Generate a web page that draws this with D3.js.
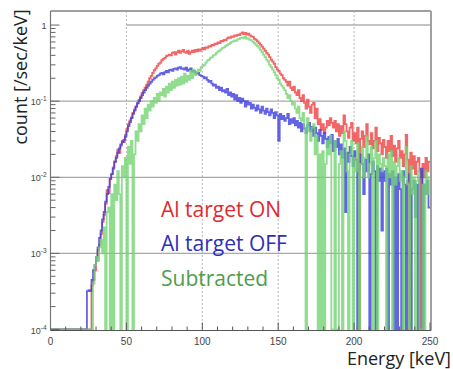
<!DOCTYPE html>
<html>
<head>
<meta charset="utf-8">
<script src="https://cdn.jsdelivr.net/npm/d3@7"></script>
<style>
  html, body { margin: 0; padding: 0; background: #fff; }
  svg { display: block; }
</style>
</head>
<body>
<svg id="chart" width="453" height="369"></svg>
<script>
// ---- data (1 keV bins starting at 0 keV) ----
const binStart = 0;
const binWidth = 1;
const xTicks = [0, 50, 100, 150, 200, 250];
const yTicks = [1, 0.1, 0.01, 0.001, 0.0001];
const yTickLabels = [["1", ""], ["10", "-1"], ["10", "-2"], ["10", "-3"], ["10", "-4"]];
const seriesNames = ["Al target ON", "Al target OFF", "Subtracted"];

const onValues = [
 0,0,0,0,0,0,0,0,0,0,
 0,0,0,0,0,0,0,0,0,0,
 0,0,0,0,0,0,0,0.00038,0.00045,0.0006,
 0.0008,0.0011,0.0013,0.0018,0.0026,0.0032,0.0045,0.0068,0.0062,0.0095,
 0.011,0.0135,0.016,0.019,0.023,0.021,0.026,0.030,0.029,0.036,
 0.043,0.050,0.056,0.061,0.070,0.078,0.085,0.093,0.104,0.115,
 0.128,0.140,0.150,0.165,0.180,0.200,0.215,0.235,0.255,0.270,
 0.290,0.310,0.320,0.345,0.360,0.370,0.390,0.400,0.410,0.400,
 0.430,0.440,0.410,0.440,0.460,0.430,0.450,0.470,0.440,0.430,
 0.460,0.420,0.440,0.460,0.440,0.470,0.450,0.480,0.460,0.480,
 0.500,0.480,0.510,0.500,0.530,0.520,0.550,0.540,0.570,0.560,
 0.590,0.580,0.620,0.610,0.640,0.630,0.670,0.690,0.680,0.710,
 0.700,0.730,0.720,0.750,0.740,0.770,0.800,0.760,0.790,0.750,
 0.770,0.730,0.710,0.700,0.660,0.640,0.610,0.580,0.550,0.520,
 0.490,0.460,0.430,0.410,0.380,0.350,0.330,0.310,0.280,0.260,
 0.250,0.230,0.220,0.200,0.190,0.180,0.160,0.180,0.150,0.140,
 0.155,0.130,0.120,0.140,0.110,0.100,0.120,0.095,0.080,0.105,
 0.085,0.070,0.090,0.095,0.060,0.080,0.050,0.058,0.042,0.050,
 0.038,0.045,0.055,0.048,0.060,0.052,0.045,0.055,0.040,0.050,
 0.035,0.047,0.038,0.065,0.050,0.040,0.033,0.045,0.052,0.030,
 0.038,0.028,0.045,0,0.032,0.040,0.025,0.035,0.050,0.030,
 0.027,0.038,0.024,0.030,0.045,0.022,0.033,0.028,0.020,0.031,
 0.025,0.018,0.030,0.022,0.035,0.019,0.026,0.016,0.024,0.030,
 0.018,0.022,0.014,0.020,0.036,0.017,0,0.021,0.013,0.019,
 0.011,0.016,0.018,0.012,0,0.015,0.010,0.018,0.012,0.016
];

const offValues = [
 0,0,0,0,0,0,0,0,0,0,
 0,0,0,0,0,0,0,0,0,0,
 0,0,0,0,0.00032,0.00033,0.00032,0.00045,0.0006,0.0007,
 0.0009,0.0012,0.0016,0.0020,0.0028,0.0035,0.0048,0.0060,0.0075,0.0095,
 0.011,0.013,0.016,0.018,0.021,0.024,0.027,0.029,0.031,0.034,
 0.040,0.047,0.053,0.060,0.068,0.075,0.085,0.094,0.100,0.110,
 0.120,0.130,0.140,0.150,0.160,0.170,0.180,0.190,0.200,0.205,
 0.215,0.220,0.230,0.235,0.225,0.240,0.250,0.240,0.255,0.260,
 0.250,0.265,0.270,0.260,0.275,0.280,0.265,0.270,0.260,0.275,
 0.250,0.260,0.270,0.245,0.250,0.240,0.230,0.235,0.220,0.215,
 0.210,0.200,0.205,0.190,0.180,0.185,0.170,0.160,0.165,0.150,
 0.155,0.140,0.150,0.135,0.140,0.130,0.145,0.120,0.130,0.115,
 0.125,0.105,0.120,0.100,0.110,0.095,0.108,0.100,0.085,0.100,
 0.090,0.095,0.080,0.090,0.082,0.075,0.088,0.078,0.070,0.085,
 0.075,0.068,0.080,0.072,0.065,0.078,0.070,0.060,0.072,0.065,
 0.030,0.068,0.058,0.064,0.055,0.060,0.068,0.050,0.058,0.052,
 0.060,0.048,0.055,0.045,0.052,0.040,0.050,0.044,0.038,0.048,
 0.052,0.040,0.046,0.035,0.045,0.038,0.030,0.042,0.035,0.028,
 0.038,0.032,0.025,0.034,0.028,0.036,0.022,0.030,0.025,0.032,
 0.020,0.027,0.018,0.024,0.0035,0.021,0.016,0.025,0.019,0.014,
 0.022,0.017,0,0.013,0.020,0.015,0.006,0.017,0.012,0.020,
 0,0.011,0.016,0.012,0,0.014,0.009,0.013,0.002,0.012,
 0.009,0.013,0,0.011,0.008,0.012,0,0.010,0,0.011,
 0.007,0,0.012,0.008,0,0.009,0.011,0,0.007,0.009,
 0.003,0.008,0,0.010,0.013,0,0.008,0.006,0.009,0.004
];

const subValues = [
 0,0,0,0,0,0,0,0,0,0,
 0,0,0,0,0,0,0,0,0,0,
 0,0,0,0,0,0,0,0,0.0004,0.0007,
 0.0009,0.0008,0.0012,0.0015,0.0010,0.0022,0,0.0035,0.0040,0,
 0.006,0,0.008,0.005,0.012,0.006,0,0.014,0.010,0.018,
 0,0.025,0.015,0.030,0,0.020,0.040,0.030,0.050,0.040,
 0.065,0.050,0.080,0.060,0.090,0.075,0.100,0.085,0.110,0.095,
 0.125,0.100,0.130,0.120,0.145,0.115,0.155,0.130,0.170,0.140,
 0.180,0.150,0.190,0.160,0.200,0.165,0.210,0.170,0.230,0.180,
 0.215,0.190,0.250,0.200,0.260,0.220,0.240,0.260,0.250,0.280,
 0.290,0.300,0.320,0.340,0.350,0.370,0.380,0.400,0.410,0.430,
 0.450,0.460,0.480,0.500,0.510,0.530,0.550,0.560,0.580,0.600,
 0.610,0.630,0.620,0.650,0.660,0.680,0.690,0.670,0.700,0.660,
 0.670,0.640,0.630,0.600,0.580,0.550,0.530,0.500,0.470,0.440,
 0.410,0.380,0.350,0.330,0.300,0.280,0.260,0.240,0.220,0.200,
 0.190,0.170,0.160,0.150,0.140,0.125,0.110,0.120,0.100,0.090,
 0.095,0.080,0.070,0.085,0.060,0.055,0.070,0.045,0,0.060,
 0.040,0.030,0.045,0.050,0.020,0.035,0,0.020,0,0.022,
 0,0.015,0.030,0.020,0.035,0,0,0.030,0,0,
 0.015,0.022,0,0.040,0.030,0.012,0,0.020,0.030,0,
 0.018,0.012,0.028,0,0.015,0.025,0.010,0.018,0.035,0.010,
 0.015,0.025,0,0.018,0.030,0,0.020,0.015,0.012,0.018,
 0.014,0,0.020,0.010,0.022,0,0.016,0.008,0.014,0.018,
 0.009,0.012,0,0.010,0.025,0.008,0,0.014,0.006,0.010,
 0,0.009,0.012,0,0,0.008,0,0.012,0.006,0.010
];

const seriesValues = [onValues, offValues, subValues];
const seriesColors = ["#ee4040", "#3c3ce0", "#74d474"];
const legendColors = ["#e02a2e", "#2e2eb8", "#4f9c4f"];

// ---- layout ----
const svg = d3.select("#chart");
const plot = { left: 50.5, right: 430, top: 11, bottom: 329.5 };
const yMin = 1e-4, yMax = 1.53;

const x = d3.scaleLinear().domain([0, 250]).range([plot.left, plot.right]);
const y = d3.scaleLog().domain([yMin, yMax]).range([plot.bottom, plot.top]).clamp(true);

// grid
const grid = svg.append("g");
[50, 100, 150, 200].forEach(v => {
  grid.append("line")
    .attr("x1", x(v)).attr("x2", x(v))
    .attr("y1", plot.top).attr("y2", plot.bottom)
    .attr("stroke", "#b8b8b8").attr("stroke-width", 1)
    .attr("stroke-dasharray", "2,2");
});
[0.1, 0.01, 0.001].forEach(v => {
  grid.append("line")
    .attr("x1", plot.left).attr("x2", plot.right)
    .attr("y1", y(v)).attr("y2", y(v))
    .attr("stroke", "#a8a8a8").attr("stroke-width", 1.2);
});
grid.append("line")
  .attr("x1", x(50)).attr("x2", plot.right)
  .attr("y1", y(1)).attr("y2", y(1))
  .attr("stroke", "#b0b0b0").attr("stroke-width", 1.4);

// frame
svg.append("line").attr("x1", plot.left).attr("x2", plot.right + 1)
  .attr("y1", plot.top).attr("y2", plot.top)
  .attr("stroke", "#a0a0a0").attr("stroke-width", 2);
svg.append("line").attr("x1", plot.right + 1).attr("x2", plot.right + 1)
  .attr("y1", plot.top).attr("y2", plot.bottom + 1)
  .attr("stroke", "#a0a0a0").attr("stroke-width", 2);

// histograms
const edges = d3.range(binStart, 250 + binWidth, binWidth);
const stepLine = d3.line()
  .x(d => x(d[0]))
  .y(d => y(Math.max(d[1], yMin)))
  .curve(d3.curveStepAfter);

seriesValues.forEach((vals, k) => {
  const pts = vals.map((v, i) => [edges[i], v]);
  pts.push([edges[vals.length], vals[vals.length - 1]]);
  svg.append("path")
    .attr("d", stepLine(pts))
    .attr("fill", "none")
    .attr("stroke", seriesColors[k])
    .attr("stroke-opacity", 0.8)
    .attr("stroke-linejoin", "miter")
    .attr("stroke-width", 1.8);
});

// axes
const axisColor = "#555";
const xAxis = svg.append("g");
xAxis.append("line").attr("x1", plot.left).attr("x2", plot.right + 1)
  .attr("y1", plot.bottom + 1).attr("y2", plot.bottom + 1)
  .attr("stroke", axisColor).attr("stroke-width", 1.2);
d3.range(0, 251, 10).forEach(v => {
  const major = v % 50 === 0;
  xAxis.append("line").attr("x1", x(v)).attr("x2", x(v))
    .attr("y1", plot.bottom + 1).attr("y2", plot.bottom + 1 - (major ? 8 : 4))
    .attr("stroke", axisColor).attr("stroke-width", 1);
});
xTicks.forEach(v => {
  xAxis.append("text").attr("x", x(v)).attr("y", plot.bottom + 15)
    .attr("text-anchor", "middle")
    .attr("font-family", "Liberation Sans, Arial, sans-serif")
    .attr("font-size", 10).attr("fill", "#444").text(v);
});

const yAxis = svg.append("g");
yAxis.append("line").attr("x1", plot.left).attr("x2", plot.left)
  .attr("y1", plot.top).attr("y2", plot.bottom + 1)
  .attr("stroke", "#777").attr("stroke-width", 1.2);
[1e-4, 1e-3, 1e-2, 1e-1, 1].forEach(dec => {
  d3.range(1, 10).forEach(m => {
    const v = dec * m;
    if (v > yMax) return;
    yAxis.append("line").attr("x1", plot.left).attr("x2", plot.left + (m === 1 ? 9 : 5))
      .attr("y1", y(v)).attr("y2", y(v))
      .attr("stroke", "#666").attr("stroke-width", 1);
  });
});
yTicks.forEach((v, i) => {
  const t = yAxis.append("text").attr("x", plot.left - 4).attr("y", y(v) + 4)
    .attr("text-anchor", "end")
    .attr("font-family", "Liberation Sans, Arial, sans-serif")
    .attr("font-size", 9).attr("fill", "#444");
  t.append("tspan").text(yTickLabels[i][0]);
  if (yTickLabels[i][1]) {
    t.append("tspan").attr("dy", -4).attr("font-size", 6.5).text(yTickLabels[i][1]);
  }
});

// axis titles
svg.append("text")
  .attr("transform", `translate(27,77) rotate(-90)`)
  .attr("text-anchor", "middle")
  .attr("font-family", "Open Sans, sans-serif")
  .attr("font-size", 18).attr("fill", "#222")
  .text("count [/sec/keV]");
svg.append("text")
  .attr("x", 451).attr("y", 365)
  .attr("text-anchor", "end")
  .attr("font-family", "Open Sans, sans-serif")
  .attr("font-size", 18).attr("fill", "#222")
  .text("Energy [keV]");

// legend
const legendY = [217, 251, 286];
seriesNames.forEach((name, i) => {
  svg.append("text")
    .attr("x", 161).attr("y", legendY[i])
    .attr("font-family", "Open Sans, sans-serif")
    .attr("font-size", 21)
    .attr("fill", legendColors[i])
    .text(name);
});
</script>
</body>
</html>
